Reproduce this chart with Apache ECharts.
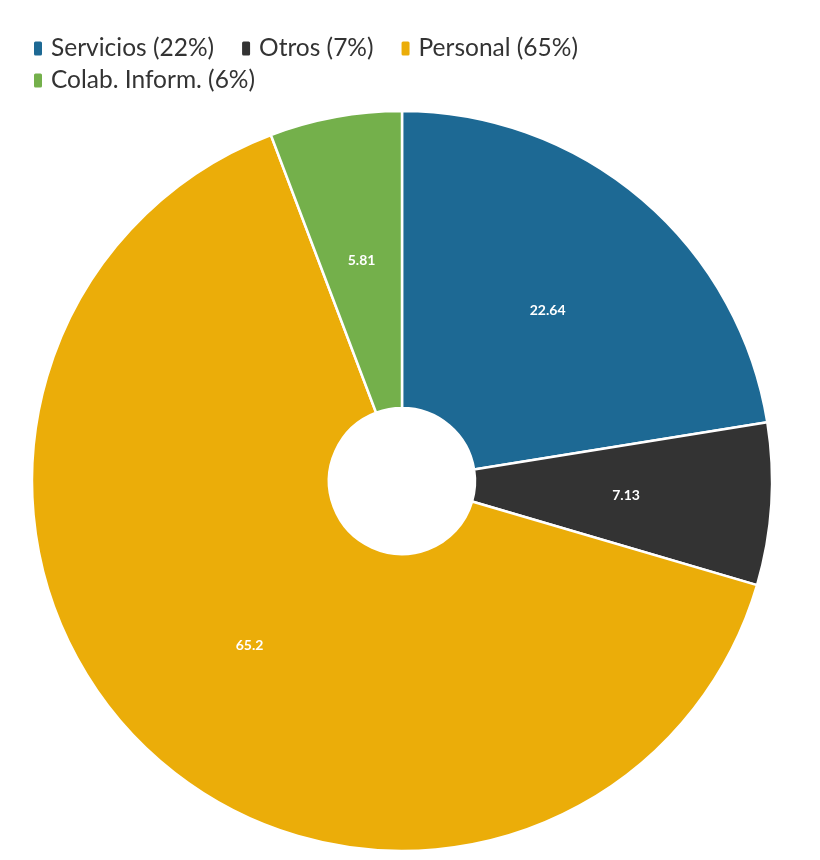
<!DOCTYPE html>
<html><head><meta charset="utf-8">
<script src="https://cdn.jsdelivr.net/npm/echarts@6/dist/echarts.min.js"></script>
<style>html,body{margin:0;padding:0;background:#fff}#c{width:820px;height:860px}</style>
</head><body><div id="c"></div>
<script>
const categories = ['Servicios', 'Otros', 'Personal', 'Colab. Inform.'];
const values = [22.64, 7.13, 65.2, 5.81];
const colors = ['#1d6994', '#333333', '#ebad09', '#74b04b'];
const total = values.reduce((a, b) => a + b, 0);
const legendNames = categories.map((c, i) => c + ' (' + Math.round(values[i] / total * 100) + '%)');
const chart = echarts.init(document.getElementById('c'));
chart.setOption({
  animation: false,
  color: colors,
  legend: {
    left: 32, top: 36, width: 620, padding: 0,
    itemWidth: 10, itemHeight: 16, itemGap: 7,
    icon: 'roundRect',
    textStyle: { fontFamily: 'Lato', fontSize: 24.5, lineHeight: 24, color: '#333', padding: [0, 19, 0, 3] },
    data: legendNames
  },
  series: [{
    type: 'pie',
    center: [402, 481],
    radius: [73, 370],
    startAngle: 90,
    clockwise: true,
    itemStyle: { borderColor: '#fff', borderWidth: 2.5 },
    label: {
      show: true, position: 'inside', color: '#fff',
      fontFamily: 'Lato', fontWeight: 'bold', fontSize: 14,
      formatter: p => values[p.dataIndex]
    },
    labelLine: { show: false },
    data: legendNames.map((n, i) => ({ name: n, value: values[i] }))
  }]
});
</script></body></html>
